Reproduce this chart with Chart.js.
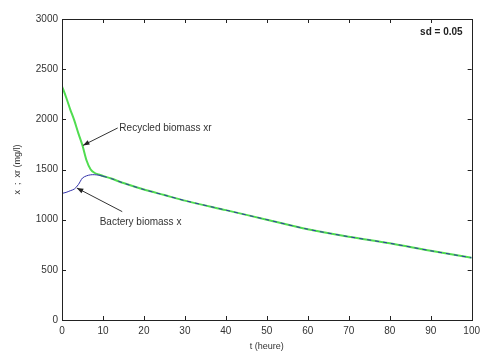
<!DOCTYPE html>
<html>
<head>
<meta charset="utf-8">
<script src="https://cdn.jsdelivr.net/npm/chart.js@4.4.1/dist/chart.umd.min.js"></script>
<style>
  html, body { margin: 0; padding: 0; background: #fff; }
  #wrap { width: 485px; height: 356px; }
</style>
</head>
<body>
<div id="wrap"><canvas id="myChart" width="485" height="356"></canvas></div>
<script>
// data
var times =     [0,    1,    2,    3,    4,    5,    6,    7,    8,    9,    10,   12,   15,   20,   25,   30,   40,   50,   60,  70,  80,  90,  100];
var recycled =  [2330, 2220, 2100, 1990, 1860, 1740, 1590, 1500, 1465, 1450, 1435, 1410, 1365, 1300, 1245, 1190, 1095, 1000, 905, 830, 765, 690, 620];
var bactery =   [1262, 1272, 1288, 1305, 1350, 1415, 1437, 1447, 1448, 1443, 1433, 1410, 1365, 1300, 1245, 1190, 1095, 1000, 905, 830, 765, 690, 620];
var xTicks = [0, 10, 20, 30, 40, 50, 60, 70, 80, 90, 100];
var yTicks = [0, 500, 1000, 1500, 2000, 2500, 3000];

// annotations: [label, textT, textY, fromT, fromY, toT, toY]
var notes = [
    ["Recycled biomass xr", 14, 1914, 13.6, 1914, 5.1, 1740],
    ["Bactery biomass x", 9.2, 977, 14.7, 1080, 3.6, 1316]
];
var sdLabel = "sd = 0.05";

function pts(ys) {
    var out = [];
    for (var i = 0; i < times.length; i++) out.push({x: times[i], y: ys[i]});
    return out;
}

var FONT = '"Liberation Sans", Arial, sans-serif';

var boxPlugin = {
    id: 'box',
    afterDatasetsDraw: function(chart) {
        var c = chart.ctx, a = chart.chartArea;
        var xs = chart.scales.x, ys = chart.scales.y;
        c.save();
        c.strokeStyle = '#222';
        c.lineWidth = 1;
        c.strokeRect(Math.round(a.left) + 0.5, Math.round(a.top) + 0.5,
                     Math.round(a.right - a.left), Math.round(a.bottom - a.top));
        // inner ticks, all four sides
        c.beginPath();
        xTicks.forEach(function(t) {
            var px = Math.round(xs.getPixelForValue(t)) + 0.5;
            c.moveTo(px, a.bottom); c.lineTo(px, a.bottom - 4);
            c.moveTo(px, a.top); c.lineTo(px, a.top + 4);
        });
        yTicks.forEach(function(v) {
            var py = Math.round(ys.getPixelForValue(v)) + 0.5;
            c.moveTo(a.left, py); c.lineTo(a.left + 4, py);
            c.moveTo(a.right, py); c.lineTo(a.right - 4, py);
        });
        c.stroke();

        // notes with arrows
        c.font = '10px ' + FONT;
        c.textBaseline = 'middle';
        notes.forEach(function(n) {
            c.fillStyle = '#333';
            c.textAlign = 'left';
            c.fillText(n[0], xs.getPixelForValue(n[1]), ys.getPixelForValue(n[2]));
            var x0 = xs.getPixelForValue(n[3]), y0 = ys.getPixelForValue(n[4]);
            var x1 = xs.getPixelForValue(n[5]), y1 = ys.getPixelForValue(n[6]);
            c.strokeStyle = '#333';
            c.beginPath(); c.moveTo(x0, y0); c.lineTo(x1, y1); c.stroke();
            var ang = Math.atan2(y1 - y0, x1 - x0);
            c.beginPath();
            c.moveTo(x1, y1);
            c.lineTo(x1 - 7 * Math.cos(ang - 0.35), y1 - 7 * Math.sin(ang - 0.35));
            c.lineTo(x1 - 7 * Math.cos(ang + 0.35), y1 - 7 * Math.sin(ang + 0.35));
            c.closePath();
            c.fillStyle = '#222';
            c.fill();
        });
        c.font = 'bold 10px ' + FONT;
        c.textAlign = 'right';
        c.fillStyle = '#222';
        c.fillText(sdLabel, xs.getPixelForValue(97.8), ys.getPixelForValue(2871));
        c.restore();
    }
};

const ctx = document.getElementById("myChart");
var myLineChart = new Chart(ctx, {
    type: 'line',
    data: {
        datasets: [
            {
                label: "Recycled biomass xr",
                data: pts(recycled),
                borderColor: "rgb(80,220,80)",
                borderWidth: 2,
                pointRadius: 0,
                fill: false,
                tension: 0.3,
                order: 2
            },
            {
                label: "Bactery biomass x",
                data: pts(bactery),
                borderColor: "rgb(50,50,170)",
                borderWidth: 1,
                pointRadius: 0,
                fill: false,
                tension: 0.3,
                order: 1,
                segment: {
                    borderDash: function(s) { return s.p0.parsed.x >= 10 ? [4, 4] : undefined; }
                }
            }
        ]
    },
    options: {
        responsive: false,
        animation: false,
        layout: { padding: { top: 19, right: 9, left: 0, bottom: 0 } },
        plugins: { legend: { display: false }, tooltip: { enabled: false } },
        scales: {
            x: {
                type: 'linear', min: 0, max: 100,
                afterBuildTicks: function(s) { s.ticks = xTicks.map(function(v) { return {value: v}; }); },
                grid: { display: false, drawTicks: false },
                border: { display: false },
                ticks: { color: '#333', padding: 5, maxRotation: 0,
                         callback: function(v) { return String(v); },
                         font: { size: 10, family: FONT } },
                title: { display: true, text: 't (heure)', color: '#333', padding: { top: 0, bottom: 4 },
                         font: { size: 9, family: FONT } },
                afterFit: function(s) { s.height = 36; }
            },
            y: {
                min: 0, max: 3000,
                afterBuildTicks: function(s) { s.ticks = yTicks.map(function(v) { return {value: v}; }); },
                grid: { display: false, drawTicks: false },
                border: { display: false },
                ticks: { color: '#333', padding: 4,
                         callback: function(v) { return String(v); },
                         font: { size: 10, family: FONT } },
                title: { display: true, text: 'x  ;  xr (mg/l)', color: '#333', padding: { top: 12, bottom: 0 },
                         font: { size: 9, family: FONT } },
                afterFit: function(s) { s.width = 62; }
            }
        }
    },
    plugins: [boxPlugin]
});
</script>
</body>
</html>
